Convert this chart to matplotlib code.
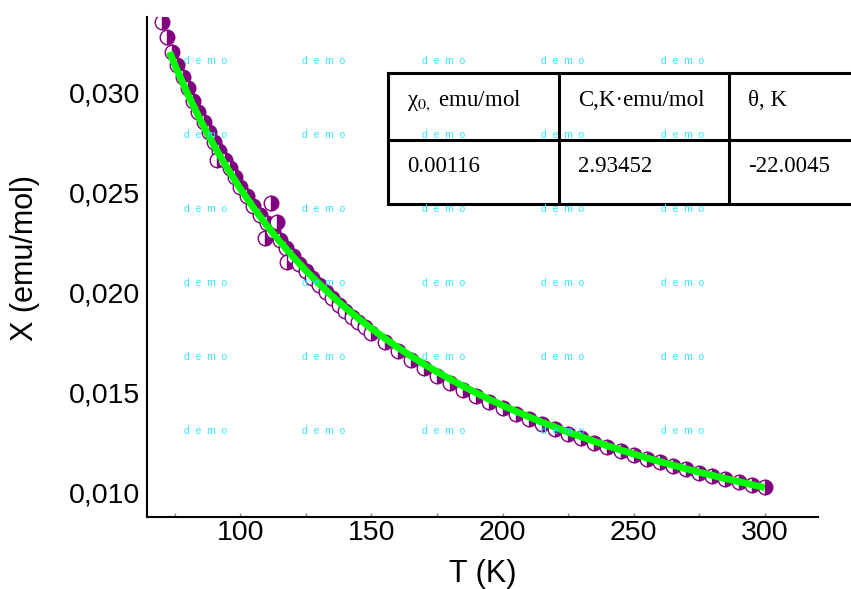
import matplotlib
matplotlib.use("Agg")
import matplotlib.pyplot as plt
from matplotlib.ticker import FuncFormatter, MultipleLocator

plt.rcParams['font.family'] = ['Liberation Sans', 'DejaVu Sans']
plt.rcParams['mathtext.fontset'] = 'stix'

# measured points
T_data = [70, 72, 74, 76, 78, 80, 82, 84, 86, 88, 90, 92, 94, 96, 98, 100,
          102.5, 105, 107.5, 110, 112.5, 115, 117.5, 120, 122.5, 125, 127.5,
          130, 132.5, 135, 137.5, 140, 142.5, 145, 147.5,
          150, 155, 160, 165, 170, 175, 180, 185, 190, 195, 200, 205, 210,
          215, 220, 225, 230, 235, 240, 245, 250, 255, 260, 265, 270, 275,
          280, 285, 290, 295, 300,
          91.2, 109.5, 111.5, 114.1, 117.9]
chi_data = [0.03355, 0.03278, 0.03203, 0.03140, 0.03080, 0.03023, 0.02958,
            0.02904, 0.02853, 0.02804, 0.02756, 0.02710, 0.02666, 0.02623,
            0.02581, 0.02531,
            0.02483, 0.02437, 0.02392, 0.02349, 0.02308, 0.02263, 0.02225,
            0.02185, 0.02147, 0.02110, 0.02075, 0.02040, 0.02005, 0.01973,
            0.01942, 0.01910, 0.01882, 0.01855, 0.01828,
            0.01802, 0.01754, 0.01708, 0.01665, 0.01624, 0.01587, 0.01551,
            0.01517, 0.01484, 0.01453, 0.01424, 0.01396, 0.01369, 0.01343,
            0.01319, 0.01295, 0.01273, 0.01251, 0.01230, 0.01210, 0.01190,
            0.01171, 0.01153, 0.01135, 0.01118, 0.01101, 0.01085, 0.01069,
            0.01054, 0.01039, 0.01030,
            0.02665, 0.02275, 0.02450, 0.02355, 0.02155]

# Curie-Weiss fit curve
T_fit = [73, 75, 80, 85, 90, 95, 100, 105, 110, 115, 120, 125, 130, 135, 140,
         145, 150, 155, 160, 165, 170, 175, 180, 185, 190, 195, 200, 205, 210,
         215, 220, 225, 230, 235, 240, 245, 250, 255, 260, 265, 270, 275, 280,
         285, 290, 295, 300]
chi_fit = [0.03205, 0.03141, 0.02993, 0.02858, 0.02736, 0.02624, 0.02521,
           0.02427, 0.02339, 0.02258, 0.02183, 0.02112, 0.02047, 0.01985,
           0.01927, 0.01873, 0.01822, 0.01774, 0.01728, 0.01685, 0.01644,
           0.01606, 0.01569, 0.01534, 0.01500, 0.01468, 0.01438, 0.01409,
           0.01381, 0.01354, 0.01329, 0.01304, 0.01281, 0.01258, 0.01236,
           0.01215, 0.01195, 0.01175, 0.01157, 0.01139, 0.01121, 0.01104,
           0.01088, 0.01072, 0.01057, 0.01042, 0.01027]

table_head = ['\u03c7$_{\\mathrm{0,}}$ emu/mol', 'C,K\u00b7emu/mol', '\u03b8, K']
table_vals = ['0.00116', '2.93452', '-22.0045']

W, H = 851, 589
fig = plt.figure(figsize=(W / 100, H / 100), dpi=100)
ax = fig.add_axes([147 / W, 1 - 517 / H, (818 - 147) / W, (517 - 17) / H])

ax.plot(T_data, chi_data, 'o', ls='none', ms=10.5, fillstyle='right',
        markerfacecolor='#800080', markerfacecoloralt='white',
        markeredgecolor='#800080', markeredgewidth=1.0, zorder=2)
ax.plot(T_fit, chi_fit, color='#00ff00', lw=5, solid_capstyle='butt', zorder=3)

ax.set_xlim(64.4, 320.3)
ax.set_ylim(0.0088, 0.0338)
ax.spines['top'].set_visible(False)
ax.spines['right'].set_visible(False)
for s in ('left', 'bottom'):
    ax.spines[s].set_linewidth(1.5)

ax.xaxis.set_major_locator(MultipleLocator(50))
ax.xaxis.set_minor_locator(MultipleLocator(25))
ax.yaxis.set_major_locator(MultipleLocator(0.005))
ax.yaxis.set_major_formatter(FuncFormatter(lambda v, p: f'{v:.3f}'.replace('.', ',')))
ax.tick_params(axis='x', which='both', direction='in', length=3, width=1,
               color='gray', labelsize=20.5, pad=2)
ax.tick_params(axis='y', length=0, labelsize=20.5, pad=5)

fig.text(483 / W, 1 - 574 / H, 'T (K)', fontsize=22, ha='center', va='center')
fig.text(25 / W, 1 - 258 / H, 'X (emu/mol)', fontsize=22, ha='center',
         va='center', rotation=90)

# table box
tx0, tx1, tx2, tx3 = 388, 559, 729, 853
ty0, ty1, ty2 = 73, 140, 204
tab = fig.add_axes([tx0 / W, 1 - ty2 / H, (tx3 - tx0) / W, (ty2 - ty0) / H])
tab.set_xlim(tx0, tx3)
tab.set_ylim(ty2, ty0)
tab.axis('off')
lw = 2.2
for y in (ty0, ty1, ty2):
    tab.plot([tx0, tx3], [y, y], color='black', lw=lw, clip_on=False)
for x in (tx0, tx1, tx2):
    tab.plot([x, x], [ty0, ty2], color='black', lw=lw, clip_on=False)
for x, h, v in zip((tx0, tx1, tx2), table_head, table_vals):
    tab.text(x + 19, 101, h, fontsize=16.5, family=['Liberation Serif', 'DejaVu Serif'],
             ha='left', va='center')
    tab.text(x + 19, 167, v, fontsize=16.5, family=['Liberation Serif', 'DejaVu Serif'],
             ha='left', va='center')

# demo watermark
for yy in (61, 135, 209, 283, 357, 431):
    for xx in (206, 324, 444, 563, 683):
        fig.text(xx / W, 1 - yy / H, 'd  e  m  o', fontsize=7.5, color='#33e6ff',
                 ha='center', va='center', zorder=10)

fig.savefig('out.png', dpi=100)
